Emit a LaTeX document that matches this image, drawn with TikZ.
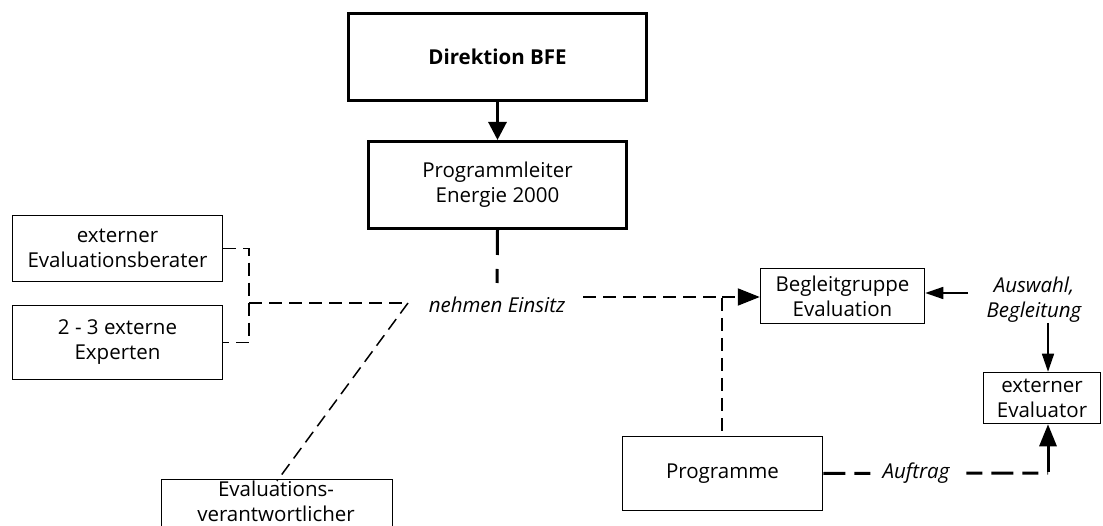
\documentclass[tikz,border=0pt]{standalone}
\usepackage{fontspec}
\setmainfont{Open Sans}
\usetikzlibrary{arrows.meta}
\begin{document}
\begin{tikzpicture}[x=1pt,y=-1pt,
  every node/.style={font=\fontsize{20.5}{25}\selectfont, align=center, inner sep=0pt},
  boxthick/.style={draw, line width=3pt},
  boxthin/.style={draw, line width=1.5pt},
  thinline/.style={line width=1.5pt},
  medline/.style={line width=2pt},
  thickline/.style={line width=3pt},
  dsh/.style={dash pattern=on 13pt off 7pt},
  bigtip/.style={-{Triangle[length=18pt,width=18pt]}},
  medtip/.style={-{Triangle[length=22pt,width=17pt]}},
  smalltip/.style={-{Triangle[length=18pt,width=12pt]}},
  lab/.style={font=\fontsize{20.5}{25}\selectfont\itshape}
]
\useasboundingbox (0,0) rectangle (1103,526);
\node[boxthick, minimum width=298, minimum height=87, font=\fontsize{20.5}{25}\selectfont\bfseries] (dir) at (497.5,57) {Direktion BFE};
\node[boxthick, minimum width=258, minimum height=87] (pl) at (497.5,185) {Programmleiter\\Energie 2000};
\node[boxthin, minimum width=210, minimum height=66] (eb) at (117.5,248.5) {externer\\Evaluationsberater};
\node[boxthin, minimum width=210, minimum height=74] (ex) at (117.5,342.5) {2 - 3 externe\\Experten};
\node[boxthin, minimum width=231, minimum height=90, anchor=north west] (ev) at (160.75,478.75) {};
\node[anchor=north] (evt) at (276,481) {Evaluations-\\verantwortlicher};
\node[boxthin, minimum width=164, minimum height=55] (bg) at (842.5,296) {Begleitgruppe\\Evaluation};
\node[boxthin, minimum width=117, minimum height=51] (ee) at (1042,398) {externer\\Evaluator};
\node[boxthin, minimum width=200, minimum height=74] (pr) at (722.5,473.5) {Programme};
\node[lab] (ne) at (497,305) {nehmen Einsitz};
\node[lab] (aw) at (1034,300) {Auswahl,\\Begleitung};
\coordinate (jb) at (249,303);
\coordinate (jn) at (408,303);
\coordinate (jp) at (497,283);
\coordinate (jr0) at (583,297);
\coordinate (jr) at (722,297);
\coordinate (aw1) at (968,293);
\coordinate (aw2) at (1048,323);
\coordinate (au) at (1048,473);
% connectors
\draw[thickline, bigtip] (dir.south) -- (pl.north);
\draw[thinline, dsh] (eb.east) -- (eb.east -| jb) -- (ex.east -| jb) -- (ex.east);
\draw[thinline, dsh] (jb) -- (jn);
\draw[thinline, dsh] (jn) -- (evt.north -| 277,0);
\draw[thickline, dash pattern=on 25pt off 14pt on 14pt off 6pt] (pl.south) -- (jp);
\draw[medline, dsh] (jr0) -- (jr) -- (jr |- pr.north);
\draw[medline, dsh, medtip] (jr) -- (bg.west |- jr);
\draw[thinline, smalltip] (aw1) -- (bg.east |- aw1);
\draw[thinline, smalltip] (aw2) -- (aw2 |- ee.north);
\draw[thickline, dash pattern=on 22pt off 9pt on 16pt off 9pt] (pr.east) -- (au);
\draw[thickline, medtip, line cap=butt] ([yshift=1.5pt]au) -- (au |- ee.south);
\node[lab, fill=white, inner xsep=10pt, inner ysep=4pt] (auf) at (916,473) {Auftrag};
\end{tikzpicture}
\end{document}
